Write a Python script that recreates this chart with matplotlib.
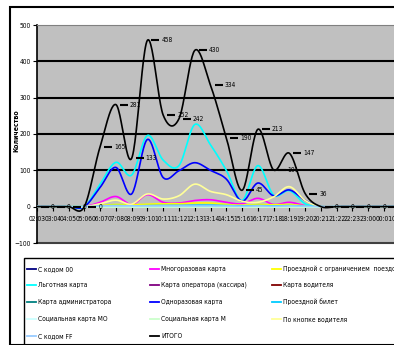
import numpy as np
import matplotlib
matplotlib.use('Agg')
import matplotlib.pyplot as plt
from matplotlib.transforms import ScaledTranslation
from matplotlib.patches import Rectangle
from matplotlib.lines import Line2D

# --- Data: passes per hour interval ---
hours = ['02:03', '03:04', '04:05', '05:06', '06:07', '07:08', '08:09', '09:10',
         '10:11', '11:12', '12:13', '13:14', '14:15', '15:16', '16:17', '17:18',
         '18:19', '19:20', '20:21', '21:22', '22:23', '23:00', '00:01', '01:02']

zero = [0] * 24
kod_00 = zero
mnogoraz = [0, 0, 0, 0, 12, 28, 6, 33, 12, 10, 17, 19, 12, 8, 23, 6, 12, 3, 0, 0, 0, 0, 0, 0]
proezd_ogr = [0, 0, 0, 0, 3, 6, 5, 7, 8, 8, 10, 10, 6, 4, 6, 5, 6, 2, 0, 0, 0, 0, 0, 0]
lgotnaya = [0, 0, 0, 0, 62, 122, 87, 196, 128, 113, 226, 170, 100, 17, 113, 32, 44, 8, 0, 0, 0, 0, 0, 0]
operator = zero
voditel = zero
admin = zero
odnoraz = [0, 0, 0, 0, 53, 108, 35, 185, 80, 99, 121, 100, 76, 15, 65, 30, 46, 17, 0, 0, 0, 0, 0, 0]
proezd_bilet = [0, 0, 0, 0, 2, 3, 2, 3, 3, 3, 4, 4, 3, 2, 3, 2, 3, 1, 0, 0, 0, 0, 0, 0]
soc_mo = zero
soc_m = zero
knopka = [0, 0, 0, 0, 8, 18, 7, 35, 21, 30, 62, 42, 33, 15, 12, 27, 55, 17, 0, 0, 0, 0, 0, 0]
kod_ff = [0, 0, 0, 0, 2, 2, 2, 2, 2, 2, 2, 2, 2, 1, 2, 1, 2, 1, 0, 0, 0, 0, 0, 0]
itogo = [0, 0, 0, 0, 165, 281, 133, 458, 252, 242, 430, 334, 190, 45, 213, 101, 147, 36, 0, 0, 0, 0, 0, 0]

series = [
    ('С кодом 00', kod_00, '#000080'),
    ('Многоразовая карта', mnogoraz, '#FF00FF'),
    ('Проездной с ограничением  поездок', proezd_ogr, '#FFFF00'),
    ('Льготная карта', lgotnaya, '#00FFFF'),
    ('Карта оператора (кассира)', operator, '#800080'),
    ('Карта водителя', voditel, '#800000'),
    ('Карта администратора', admin, '#008080'),
    ('Одноразовая карта', odnoraz, '#0000FF'),
    ('Проездной билет', proezd_bilet, '#00CCFF'),
    ('Социальная карта МО', soc_mo, '#CCFFFF'),
    ('Социальная карта М', soc_m, '#CCFFCC'),
    ('По кнопке водителя', knopka, '#FFFF99'),
    ('С кодом FF', kod_ff, '#99CCFF'),
    ('ИТОГО', itogo, '#000000'),
]

plt.rcParams['font.family'] = ['Liberation Sans Narrow', 'DejaVu Sans']
plt.rcParams['font.stretch'] = 'condensed'
FS = 4.8


def smooth(vals, n=24):
    # cubic hermite (catmull-rom) through the points, like a smoothed line
    y = np.asarray(vals, float)
    xs, ys = [], []
    t = np.linspace(0, 1, n, endpoint=False)
    h00 = 2 * t**3 - 3 * t**2 + 1
    h10 = t**3 - 2 * t**2 + t
    h01 = -2 * t**3 + 3 * t**2
    h11 = t**3 - t**2
    for k in range(len(y) - 1):
        p0 = y[k - 1] if k > 0 else y[k]
        p3 = y[k + 2] if k + 2 < len(y) else y[k + 1]
        m1 = (y[k + 1] - p0) / 2
        m2 = (p3 - y[k]) / 2
        xs.extend(k + t)
        ys.extend(h00 * y[k] + h10 * m1 + h01 * y[k + 1] + h11 * m2)
    xs.append(len(y) - 1)
    ys.append(y[-1])
    return np.array(xs), np.array(ys)


W, H = 394, 345
fig = plt.figure(figsize=(W / 100, H / 100), dpi=100)
fig.patch.set_facecolor('white')

# chart area border
fig.patches.append(Rectangle((10 / W, 0), 1, 1 - 7 / H, transform=fig.transFigure,
                             fill=False, edgecolor='black', lw=1.5))

ax = fig.add_axes([37 / W, 1 - 243 / H, 362.8 / W, 218 / H])
ax.set_facecolor('#C0C0C0')
ax.set_xlim(0, len(hours) - 1)
ax.set_ylim(-100, 500)

for v in (100, 200, 300, 400):
    ax.axhline(v, color='black', lw=1.5, zorder=1)
ax.axhline(-100, color='#404040', lw=1.5, zorder=1, clip_on=False)

for name, vals, color in series:
    xs, ys = smooth(vals)
    ax.plot(xs, ys, color=color, lw=1.2, zorder=3, solid_capstyle='round')

# value labels on the total line
key_off = ax.transData + ScaledTranslation(8 / 100, 0, fig.dpi_scale_trans)
for i, v in enumerate(itogo):
    ax.plot(i, v, marker='_', ms=6, mew=1.5, color='black', transform=key_off,
            zorder=4, clip_on=False)
    ax.annotate(str(v), (i, v), xytext=(14, 0), textcoords='offset pixels',
                ha='left', va='center', fontsize=FS, zorder=5,
                annotation_clip=False)

ax.spines['bottom'].set_position(('data', 0))
ax.spines['bottom'].set_linewidth(1.2)
ax.spines['left'].set_linewidth(1.2)
ax.spines['top'].set_color('#808080')
ax.spines['right'].set_visible(False)

ax.set_xticks(range(len(hours)))
ax.set_xticklabels(hours)
ax.set_yticks(range(-100, 501, 100))
ax.tick_params(axis='x', direction='out', length=3, pad=4, labelsize=FS)
ax.tick_params(axis='y', direction='out', length=3, pad=1.5, labelsize=FS)

fig.text(16.5 / W, 1 - 131 / H, 'Количество', rotation=90, weight='bold',
         fontsize=5, ha='center', va='center')

# legend block, three columns filled row by row
fig.patches.append(Rectangle((24 / W, -0.1), 1, 1.1 - 258 / H, transform=fig.transFigure,
                             fill=False, edgecolor='black', lw=1))
col_x = [27, 150, 272]
row_y = [269, 285, 302, 319, 336]
for k, (name, vals, color) in enumerate(series):
    r, c = divmod(k, 3)
    x0, y0 = col_x[c], row_y[r]
    fig.lines.append(Line2D([x0 / W, (x0 + 9) / W], [1 - y0 / H] * 2,
                            transform=fig.transFigure, color=color, lw=1.3))
    fig.text((x0 + 11) / W, 1 - y0 / H, name, fontsize=FS, ha='left', va='center')

fig.savefig('out.png', dpi=100)
